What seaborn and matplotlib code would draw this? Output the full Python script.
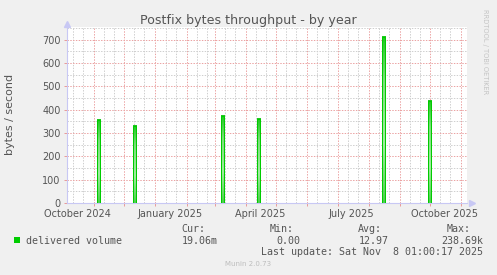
import numpy as np
import pandas as pd
import matplotlib
matplotlib.use("Agg")
import matplotlib.pyplot as plt
import matplotlib.dates as mdates
from matplotlib.colors import LinearSegmentedColormap
from matplotlib.patches import Rectangle
import seaborn as sns

# ---------------- data ----------------
spike_dates = ["2024-11-03 16:00", "2024-12-09 04:00", "2025-03-06 16:00", "2025-04-11 16:00",
               "2025-08-14 04:00", "2025-09-29 04:00"]
spike_values = [356, 331, 374, 361, 713, 438]
window_start = "2024-10-04 18:00"
window_end = "2025-11-06 23:00"
y_ticks = [0, 100, 200, 300, 400, 500, 600, 700]
x_label_dates = ["2024-10-15", "2025-01-15", "2025-04-15", "2025-07-15", "2025-10-15"]
x_labels = ["October 2024", "January 2025", "April 2025", "July 2025", "October 2025"]
title = "Postfix bytes throughput - by year"
y_label = "bytes / second"
legend_label = "delivered volume"
stat_names = ["Cur:", "Min:", "Avg:", "Max:"]
stat_values = ["19.06m", "0.00", "12.97", "238.69k"]
last_update = "Last update: Sat Nov  8 01:00:17 2025"
footer = "Munin 2.0.73"
side_text = "RRDTOOL / TOBI OETIKER"

# ---------------- style ----------------
W, H = 497, 275
BG = "#f0f0f0"
GREEN = "#00cc00"
TXT = "#555555"
AXIS = "#c8c8f4"
spike_width = pd.Timedelta(days=3.0)

sns.set_style("white")
plt.rcParams["font.family"] = ["DejaVu Sans"]

fig = plt.figure(figsize=(W / 100, H / 100), dpi=100, facecolor=BG)
ax = fig.add_axes([66.7 / W, 1 - 203 / H, (467.3 - 66.7) / W, (203 - 26.7) / H])
ax.set_facecolor("white")

# build series (zero baseline with daily spikes)
t0, t1 = pd.Timestamp(window_start), pd.Timestamp(window_end)
xs, ys = [t0], [0.0]
for d, v in zip(spike_dates, spike_values):
    d = pd.Timestamp(d)
    xs += [d, d, d + spike_width, d + spike_width]
    ys += [0.0, v, v, 0.0]
xs.append(t1)
ys.append(0.0)
df = pd.DataFrame({"time": xs, "value": ys})

# gradient fill for each spike
cmap = LinearSegmentedColormap.from_list(
    "g", [(0.0, "#4ccf4c"), (0.35, "#a0eca0"), (0.75, "#78de78"), (1.0, "#20c820")])
grad = np.linspace(0, 1, 64).reshape(-1, 1)
for d, v in zip(spike_dates, spike_values):
    d = pd.Timestamp(d)
    x0 = mdates.date2num(d)
    x1 = mdates.date2num(d + spike_width)
    ax.imshow(grad, extent=[x0, x1, 0, v], origin="lower", aspect="auto",
              cmap=cmap, interpolation="bilinear", zorder=2)

sns.lineplot(data=df, x="time", y="value", ax=ax, estimator=None, sort=False,
             color=GREEN, linewidth=0.72, zorder=3, legend=False)

ax.set_xlim(t0, t1)
ax.set_ylim(0, 756)

# grids
ax.xaxis.set_major_locator(mdates.MonthLocator())
ax.xaxis.set_minor_locator(mdates.DayLocator(bymonthday=[11, 21]))
ax.xaxis.set_major_formatter(plt.NullFormatter())
ax.set_yticks(y_ticks)
ax.set_yticks(np.arange(50, 760, 100), minor=True)
ax.grid(which="major", color="#eba3a3", linestyle=(0, (1.4, 1.4)), linewidth=0.72, zorder=1)
ax.grid(which="minor", color="#cfcfcf", linestyle=(0, (1.4, 1.4)), linewidth=0.72, zorder=1)
ax.set_axisbelow(True)

ax.tick_params(axis="y", which="major", length=2.5, width=0.7, color="#e89a9a",
               labelsize=7, labelcolor=TXT, pad=2, left=True)
ax.tick_params(axis="y", which="minor", length=0)
ax.tick_params(axis="x", which="major", length=2.5, width=0.7, color="#e89a9a", bottom=True)
ax.tick_params(axis="x", which="minor", length=0)
ax.set_xlabel("")
ax.set_ylabel("")

for s in ["top", "right"]:
    ax.spines[s].set_visible(False)
ax.spines["left"].set_color(AXIS)
ax.spines["left"].set_linewidth(0.8)
ax.spines["bottom"].set_color(AXIS)
ax.spines["bottom"].set_linewidth(0.8)

# axis arrows
ax.plot([1.012], [0], marker=">", ms=4, color=AXIS, transform=ax.transAxes, clip_on=False, zorder=5)
ax.plot([0], [1.015], marker="^", ms=4, color=AXIS, transform=ax.transAxes, clip_on=False, zorder=5)

# x labels at mid-month
xt = ax.get_xaxis_transform()
for d, lab in zip(x_label_dates, x_labels):
    ax.text(pd.Timestamp(d), -0.035, lab, transform=xt, ha="center", va="top",
            fontsize=7, color=TXT)

# texts
def fx(x):
    return x / W

def fy(y):
    return 1 - y / H

fig.text(fx(248), fy(24), title, ha="center", va="baseline", fontsize=9.1, color=TXT)
fig.text(fx(10.5), fy(114), y_label, ha="center", va="center", rotation=90, fontsize=8, color=TXT)
fig.text(fx(485.5), fy(52), side_text, ha="center", va="center", rotation=270,
         fontsize=4.8, color="#c4c4c4")

mono = "DejaVu Sans Mono"
fig.patches.append(Rectangle((fx(14), fy(243)), 6 / W, 6 / H, transform=fig.transFigure,
                             facecolor=GREEN, edgecolor=GREEN, linewidth=0))
fig.text(fx(26), fy(243.5), legend_label, ha="left", va="baseline", family=mono, fontsize=7.2, color=TXT)
name_x = [181, 270, 358, 447]
val_x = [181.7, 276.7, 358.3, 441]
for nx, vx, n, v in zip(name_x, val_x, stat_names, stat_values):
    fig.text(fx(nx), fy(232), n, ha="left", va="baseline", family=mono, fontsize=7.2, color=TXT)
    fig.text(fx(vx), fy(243.5), v, ha="left", va="baseline", family=mono, fontsize=7.2, color=TXT)
fig.text(fx(482.7), fy(255), last_update, ha="right", va="baseline", family=mono, fontsize=7.2, color=TXT)
fig.text(fx(248), fy(266.5), footer, ha="center", va="baseline", fontsize=5, color="#bdbdbd")

fig.savefig("out.png", dpi=100, facecolor=BG)
